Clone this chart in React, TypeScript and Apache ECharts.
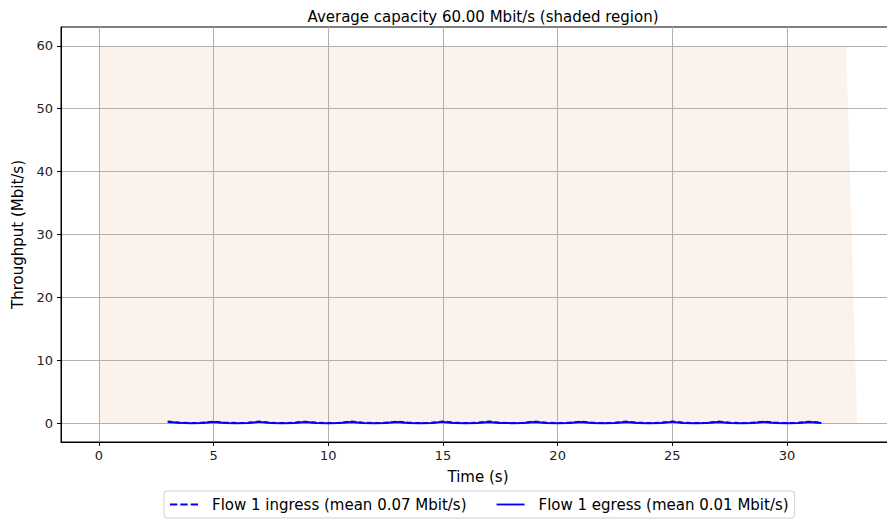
import React, { useEffect, useRef } from "react";
import * as echarts from "echarts";

const titleText = "Average capacity 60.00 Mbit/s (shaded region)";
const xTicks = [0, 5, 10, 15, 20, 25, 30];
const yTicks = [0, 10, 20, 30, 40, 50, 60];
const capacityX = [0, 32.58, 33.06];
const capacityY = [60, 60, 0];
const legendNames = ["Flow 1 ingress (mean 0.07 Mbit/s)", "Flow 1 egress (mean 0.01 Mbit/s)"];

const times = [
  3.0, 3.5, 4.0, 4.5, 5.0, 5.5, 6.0, 6.5, 7.0, 7.5, 8.0, 8.5, 9.0, 9.5, 10.0, 10.5,
  11.0, 11.5, 12.0, 12.5, 13.0, 13.5, 14.0, 14.5, 15.0, 15.5, 16.0, 16.5, 17.0, 17.5,
  18.0, 18.5, 19.0, 19.5, 20.0, 20.5, 21.0, 21.5, 22.0, 22.5, 23.0, 23.5, 24.0, 24.5,
  25.0, 25.5, 26.0, 26.5, 27.0, 27.5, 28.0, 28.5, 29.0, 29.5, 30.0, 30.5, 31.0, 31.5,
];
const ingress = [
  0.28, 0.08, 0.02, 0.06, 0.25, 0.07, 0.02, 0.05, 0.27, 0.06, 0.02, 0.07, 0.24, 0.06,
  0.02, 0.05, 0.26, 0.07, 0.02, 0.06, 0.25, 0.06, 0.02, 0.05, 0.27, 0.07, 0.02, 0.06,
  0.25, 0.06, 0.02, 0.05, 0.26, 0.07, 0.02, 0.06, 0.24, 0.06, 0.02, 0.05, 0.26, 0.07,
  0.02, 0.06, 0.27, 0.06, 0.02, 0.05, 0.25, 0.07, 0.02, 0.06, 0.26, 0.06, 0.02, 0.05,
  0.24, 0.04,
];
const egress = [
  0.2, 0.05, 0.0, 0.03, 0.18, 0.04, 0.0, 0.02, 0.2, 0.03, 0.0, 0.04, 0.17, 0.03,
  0.0, 0.02, 0.19, 0.04, 0.0, 0.03, 0.18, 0.03, 0.0, 0.02, 0.2, 0.04, 0.0, 0.03,
  0.18, 0.03, 0.0, 0.02, 0.19, 0.04, 0.0, 0.03, 0.17, 0.03, 0.0, 0.02, 0.19, 0.04,
  0.0, 0.03, 0.2, 0.03, 0.0, 0.02, 0.18, 0.04, 0.0, 0.03, 0.19, 0.03, 0.0, 0.02,
  0.17, 0.02,
];

const FONT = "DejaVu Sans";
const DASH_ICON = "path://M0,0H7V2H0Z M10,0H17V2H10Z M20,0H27V2H20Z";
const SOLID_ICON = "path://M0,0H30V2H0Z";

export default function App() {
  const ref = useRef<HTMLDivElement>(null);
  useEffect(() => {
    document.body.style.margin = "0";
    const chart = echarts.init(ref.current!, null, { renderer: "svg" });
    const cap = capacityX.map((x, i) => [x, capacityY[i]]);
    const ing = times.map((t, i) => [t, ingress[i]]);
    const eg = times.map((t, i) => [t, egress[i]]);
    chart.setOption({
      animation: false,
      backgroundColor: "#ffffff",
      textStyle: { fontFamily: FONT },
      title: {
        text: titleText,
        left: 478,
        textAlign: "center",
        top: 4,
        textStyle: { fontFamily: FONT, fontSize: 15, fontWeight: "normal", color: "#000" },
      },
      grid: {
        left: 61,
        top: 27,
        right: 0,
        bottom: 79,
        show: true,
        borderColor: "#000",
        borderWidth: 1,
        backgroundColor: "transparent",
        containLabel: false,
      },
      xAxis: {
        type: "value",
        min: -1.653,
        max: 34.71,
        name: "Time (s)",
        nameLocation: "middle",
        nameGap: 27,
        nameTextStyle: { fontFamily: FONT, fontSize: 15, color: "#000" },
        axisLine: { show: true, onZero: false, lineStyle: { color: "#000", width: 1 } },
        axisTick: { show: true, length: 4, customValues: xTicks, lineStyle: { color: "#000" } },
        axisLabel: {
          customValues: xTicks,
          fontFamily: FONT,
          fontSize: 13,
          color: "#222",
          margin: 7,
        },
        splitLine: { show: true, lineStyle: { color: "#b0b0b0", width: 1 } },
      },
      yAxis: {
        type: "value",
        min: -3,
        max: 63,
        name: "Throughput (Mbit/s)",
        nameLocation: "middle",
        nameGap: 33,
        nameTextStyle: { fontFamily: FONT, fontSize: 15, color: "#000" },
        axisLine: { show: true, onZero: false, lineStyle: { color: "#000", width: 1 } },
        axisTick: { show: true, length: 4, customValues: yTicks, lineStyle: { color: "#000" } },
        axisLabel: {
          customValues: yTicks,
          fontFamily: FONT,
          fontSize: 13,
          color: "#222",
          margin: 8,
        },
        splitLine: { show: true, lineStyle: { color: "#b0b0b0", width: 1 } },
      },
      legend: {
        bottom: 3,
        left: 164,
        data: [
          { name: legendNames[0], icon: DASH_ICON },
          { name: legendNames[1], icon: SOLID_ICON },
        ],
        borderColor: "#d0d0d0",
        borderWidth: 1,
        borderRadius: 3,
        padding: [6, 6, 6, 6],
        itemGap: 30,
        itemWidth: 28,
        itemHeight: 14,
        textStyle: { fontFamily: FONT, fontSize: 15, color: "#000", padding: [0, 0, 0, 9] },
      },
      series: [
        {
          name: "capacity",
          type: "line",
          data: cap,
          symbol: "none",
          lineStyle: { width: 0 },
          areaStyle: { color: "rgba(225,165,115,0.2)", origin: 0 },
          silent: true,
          z: 1,
        },
        {
          name: legendNames[0],
          type: "line",
          data: ing,
          symbol: "none",
          lineStyle: { color: "#0000ff", width: 2, type: [5, 3] },
          itemStyle: { color: "#0000ff" },
          z: 3,
        },
        {
          name: legendNames[1],
          type: "line",
          data: eg,
          symbol: "none",
          lineStyle: { color: "#0000ff", width: 2 },
          itemStyle: { color: "#0000ff" },
          z: 4,
        },
      ],
    });
    return () => chart.dispose();
  }, []);
  return (
    <div style={{ width: 887, height: 521, overflow: "hidden", position: "relative" }}>
      <div ref={ref} style={{ width: 895, height: 521 }} />
    </div>
  );
}
